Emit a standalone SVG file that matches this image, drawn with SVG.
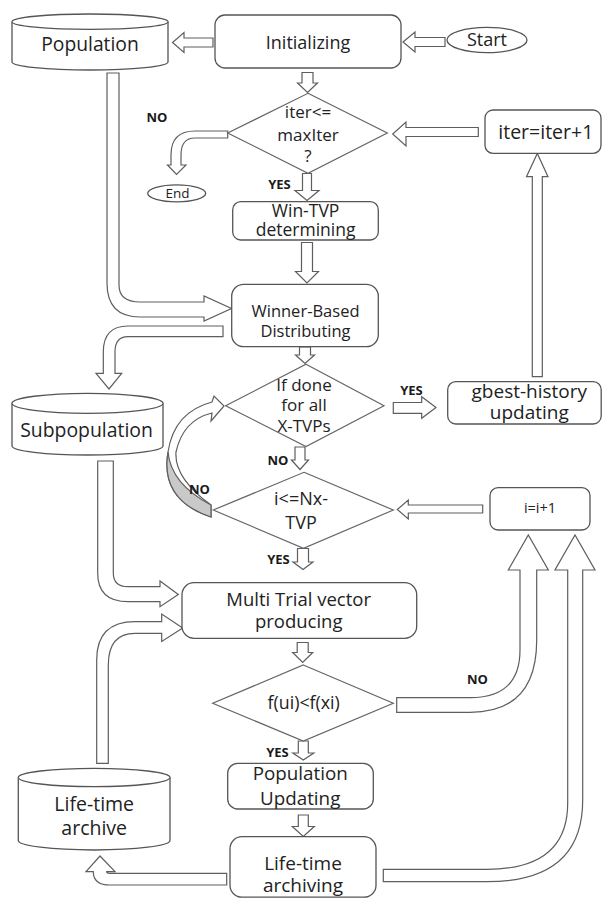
<svg xmlns="http://www.w3.org/2000/svg" width="603" height="899" viewBox="0 0 603 899">
  <style>
    .box { fill: #fff; stroke: #555; stroke-width: 1.3; }
    .dia { fill: #fff; stroke: #666; stroke-width: 1.2; }
    .arw { fill: #fff; stroke: #5e5e5e; stroke-width: 1.2; stroke-linejoin: miter; }
    .shade { fill: #c9c9c9; stroke: #5e5e5e; stroke-width: 1.2; }
    text { font-family: "Open Sans", "Noto Sans", "Liberation Sans", sans-serif; fill: #222; text-anchor: middle; }
    .lbl { font-weight: bold; font-size: 13px; fill: #1a1a1a; }
  </style>
  <rect width="603" height="899" fill="#fff"/>

  <!-- connectors: outlined block arrows -->
  <g id="connectors">
    <!-- Start -> Initializing -->
    <path class="arw" d="M445,37.5 L415,37.5 L415,32 L403,42 L415,52 L415,46.5 L445,46.5 Z"/>
    <!-- Initializing -> Population -->
    <path class="arw" d="M213,38 L184,38 L184,32.5 L172.5,42.5 L184,52.5 L184,47 L213,47 Z"/>
    <!-- Initializing -> iter test -->
    <path class="arw" d="M302,72.5 L313,72.5 L313,83 L317.5,83 L307.5,92.5 L297.5,83 L302,83 Z"/>
    <!-- iter test -> End (NO) -->
    <path class="arw" d="M227.7,131 L195,131 Q171,131 171,155 L171,165 L167.5,165 L176.5,174.5 L186,165 L181,165 L181,155 Q181,138 195,138 L227.7,138 Z"/>
    <!-- iter test -> Win-TVP (YES) -->
    <path class="arw" d="M302.5,173.5 L311.5,173.5 L311.5,190.5 L319,190.5 L307,200.5 L295,190.5 L302.5,190.5 Z"/>
    <!-- Win-TVP -> Winner-Based -->
    <path class="arw" d="M301.5,242.5 L312.5,242.5 L312.5,271.5 L318.5,271.5 L307,283 L295.5,271.5 L301.5,271.5 Z"/>
    <!-- Population -> Winner-Based -->
    <path class="arw" d="M107,73 L107,283 Q107,317 140,317 L204,317 L204,321 L231.5,308.5 L204,296 L204,302 L140,302 Q119,302 119,285 L119,73 Z"/>
    <!-- Winner-Based -> Subpopulation -->
    <path class="arw" d="M223,326 L128,326 Q103.3,326 103.3,352 L103.3,373.3 L96,373.3 L109,389 L121.7,373.3 L115,373.3 L115,352 Q115,336.7 128,336.7 L223,336.7 Z"/>
    <!-- Winner-Based -> X-TVP test -->
    <path class="arw" d="M299.5,347 L310.5,347 L310.5,355 L314.5,355 L305,363.5 L295.5,355 L299.5,355 Z"/>
    <!-- X-TVP test -> gbest-history (YES) -->
    <path class="arw" d="M393.3,402.5 L421.7,402.5 L421.7,396.7 L436,407.5 L421.7,418.3 L421.7,413.3 L393.3,413.3 Z"/>
    <!-- gbest-history -> iter=iter+1 -->
    <path class="arw" d="M532.3,376.7 L532.3,176.7 L526.5,176.7 L537.3,153.5 L548,176.7 L542.3,176.7 L542.3,376.7 Z"/>
    <!-- iter=iter+1 -> iter test -->
    <path class="arw" d="M478.3,127.5 L406,127.5 L406,122 L392.7,134 L406,146 L406,136.5 L478.3,136.5 Z"/>
    <!-- X-TVP test -> Nx-TVP test (NO) -->
    <path class="arw" d="M295,447 L305,447 L305,460 L308.5,460 L300,469.5 L291.5,460 L295,460 Z"/>
    <!-- Nx-TVP test -> X-TVP test (NO), curved -->
    <path class="arw" d="M211,517 Q160,500 168,452 Q174,412 212,402 L214,396 L224,406 L211,421 L212,413 Q183,420 176,452 Q174,478 211,505 Z"/>
    <path class="shade" d="M211,517 Q160,500 168,452 Q171,484 211,505 Z"/>
    <!-- i=i+1 -> Nx-TVP test -->
    <path class="arw" d="M482.7,505 L408.3,505 L408.3,500 L397.3,509.5 L408.3,519 L408.3,513 L482.7,513 Z"/>
    <!-- Nx-TVP test -> Multi Trial (YES) -->
    <path class="arw" d="M297.5,548.5 L308.5,548.5 L308.5,562 L313,562 L303,569.5 L293,562 L297.5,562 Z"/>
    <!-- Subpopulation -> Multi Trial -->
    <path class="arw" d="M97.7,461 L97.7,573 Q97.7,601.7 128,601.7 L160,601.7 L160,606.7 L178.3,594.5 L160,581 L160,586.7 L128,586.7 Q113.3,586.7 113.3,573 L113.3,461 Z"/>
    <!-- Life-time archive -> Multi Trial -->
    <path class="arw" d="M96.7,763.3 L96.7,660 Q96.7,621.7 135,621.7 L161.7,621.7 L161.7,614 L182.7,628 L161.7,641.5 L161.7,633.3 L135,633.3 Q108.3,633.3 108.3,665 L108.3,763.3 Z"/>
    <!-- Multi Trial -> f(ui) test -->
    <path class="arw" d="M297.2,642.5 L308.2,642.5 L308.2,652.5 L312.7,652.5 L302.7,662.5 L292.7,652.5 L297.2,652.5 Z"/>
    <!-- f(ui) test -> i=i+1 (NO) -->
    <path class="arw" d="M396.7,697.7 L470,697.7 Q520,697.7 520,650 L520,570 L508.3,570 L528.3,535 L548.3,570 L536.7,570 L536.7,640 Q536.7,712.3 470,712.3 L396.7,712.3 Z"/>
    <!-- f(ui) test -> Population Updating (YES) -->
    <path class="arw" d="M298.3,741 L308.3,741 L308.3,753 L313.8,753 L303.3,760 L292.8,753 L298.3,753 Z"/>
    <!-- Population Updating -> Life-time archiving -->
    <path class="arw" d="M298.3,815 L308.3,815 L308.3,826.5 L314.3,826.5 L303.3,836.5 L292.3,826.5 L298.3,826.5 Z"/>
    <!-- Life-time archiving -> i=i+1 -->
    <path class="arw" d="M383.3,869.3 L487,869.3 Q567.7,869.3 567.7,803 L567.7,570 L555,570 L575,535 L595,570 L582.7,570 L582.7,800 Q582.7,881.7 487,881.7 L383.3,881.7 Z"/>
    <!-- Life-time archiving -> Life-time archive -->
    <path class="arw" d="M226.7,873.3 L110,873.3 Q106.7,873.3 106.7,871.7 L115,871.7 L100,856 L86,871.7 L93.3,871.7 Q93.3,885 110,885 L226.7,885 Z"/>

    <text class="lbl" x="157" y="122">NO</text>
    <text class="lbl" x="279.5" y="188.5">YES</text>
    <text class="lbl" x="411.5" y="394.5">YES</text>
    <text class="lbl" x="278" y="464.5">NO</text>
    <text class="lbl" x="199.5" y="494">NO</text>
    <text class="lbl" x="278.5" y="563.5">YES</text>
    <text class="lbl" x="477.5" y="683.5">NO</text>
    <text class="lbl" x="277.5" y="757">YES</text>
  </g>

  <g id="start">
    <ellipse class="box" cx="487" cy="40" rx="40" ry="12.7"/>
    <text x="487" y="46" font-size="18">Start</text>
  </g>

  <g id="initializing">
    <rect class="box" x="215" y="15" width="186" height="53" rx="10"/>
    <text x="308" y="48.5" font-size="18">Initializing</text>
  </g>

  <g id="population">
    <path class="box" d="M12,21.7 A78,7.7 0 0 1 168,21.7 L168,62 A78,8 0 0 1 12,62 Z"/>
    <path class="box" fill="none" d="M12,21.7 A78,7.7 0 0 0 168,21.7"/>
    <text x="90" y="51" font-size="19.3">Population</text>
  </g>

  <g id="iter-test">
    <polygon class="dia" points="308,93.3 387.3,133 308,173.3 227.7,133"/>
    <text x="308" y="118.3" font-size="17">iter&lt;=</text>
    <text x="308" y="141" font-size="17">maxIter</text>
    <text x="308" y="162" font-size="17">?</text>
  </g>

  <g id="end">
    <ellipse class="box" cx="176.7" cy="193.3" rx="29" ry="8.5"/>
    <text x="177.5" y="198" font-size="13.5">End</text>
  </g>

  <g id="iter-increment">
    <rect class="box" x="485" y="110" width="116" height="43.3" rx="8"/>
    <text x="545.8" y="139.3" font-size="19.5">iter=iter+1</text>
  </g>

  <g id="win-tvp">
    <rect class="box" x="232.7" y="201.7" width="145.6" height="38.3" rx="8"/>
    <text x="305.6" y="216.5" font-size="17.5">Win-TVP</text>
    <text x="305.6" y="236" font-size="17.5">determining</text>
  </g>

  <g id="winner-based">
    <rect class="box" x="231.7" y="284.3" width="146.6" height="62.4" rx="12"/>
    <text x="305.5" y="316.5" font-size="16.5">Winner-Based</text>
    <text x="305.5" y="336.5" font-size="16.5">Distributing</text>
  </g>

  <g id="subpopulation">
    <path class="box" d="M12,403.3 A75.5,10 0 0 1 163,403.3 L163,446 A75.5,9 0 0 1 12,446 Z"/>
    <path class="box" fill="none" d="M12,403.3 A75.5,10 0 0 0 163,403.3"/>
    <text x="86.5" y="436.7" font-size="19.4">Subpopulation</text>
  </g>

  <g id="xtvp-test">
    <polygon class="dia" points="306,364.3 384,405.7 306,446.5 225.7,405.7"/>
    <text x="304" y="390.5" font-size="17">If done</text>
    <text x="304" y="411" font-size="17">for all</text>
    <text x="304" y="432" font-size="17">X-TVPs</text>
  </g>

  <g id="gbest-history">
    <rect class="box" x="447.7" y="381.7" width="153.5" height="42.3" rx="8"/>
    <text x="529.3" y="397.5" font-size="19">gbest-history</text>
    <text x="529.3" y="418.5" font-size="19">updating</text>
  </g>

  <g id="nx-test">
    <polygon class="dia" points="304,472.3 393.3,510 303.5,548.3 213.3,510"/>
    <text x="301" y="505" font-size="18">i&lt;=Nx-</text>
    <text x="301" y="528.5" font-size="18">TVP</text>
  </g>

  <g id="i-increment">
    <rect class="box" x="490" y="487.7" width="100" height="42.3" rx="8"/>
    <text x="540" y="513.3" font-size="14.5">i=i+1</text>
  </g>

  <g id="multi-trial">
    <rect class="box" x="182" y="582.7" width="234.7" height="55.6" rx="12"/>
    <text x="298.7" y="605.5" font-size="18.5">Multi Trial vector</text>
    <text x="298.7" y="628" font-size="18.5">producing</text>
  </g>

  <g id="fitness-test">
    <polygon class="dia" points="303.3,665 393.3,703.3 303.3,741 212.7,703.3"/>
    <text x="303.7" y="709.3" font-size="17.8">f(ui)&lt;f(xi)</text>
  </g>

  <g id="population-updating">
    <rect class="box" x="227.7" y="763.3" width="145.6" height="45.7" rx="10"/>
    <text x="300.2" y="780" font-size="18.8">Population</text>
    <text x="300.2" y="805" font-size="18.8">Updating</text>
  </g>

  <g id="lifetime-archive">
    <path class="box" d="M18.3,777.5 A75.85,9.2 0 0 1 170,777.5 L170,840.5 A75.85,9.5 0 0 1 18.3,840.5 Z"/>
    <path class="box" fill="none" d="M18.3,777.5 A75.85,9.2 0 0 0 170,777.5"/>
    <text x="94.2" y="810.5" font-size="19.5">Life-time</text>
    <text x="94.2" y="834.5" font-size="19.5">archive</text>
  </g>

  <g id="lifetime-archiving">
    <rect class="box" x="230" y="836.7" width="146" height="60.5" rx="12"/>
    <text x="303" y="869.5" font-size="19">Life-time</text>
    <text x="303" y="892" font-size="19">archiving</text>
  </g>
</svg>
